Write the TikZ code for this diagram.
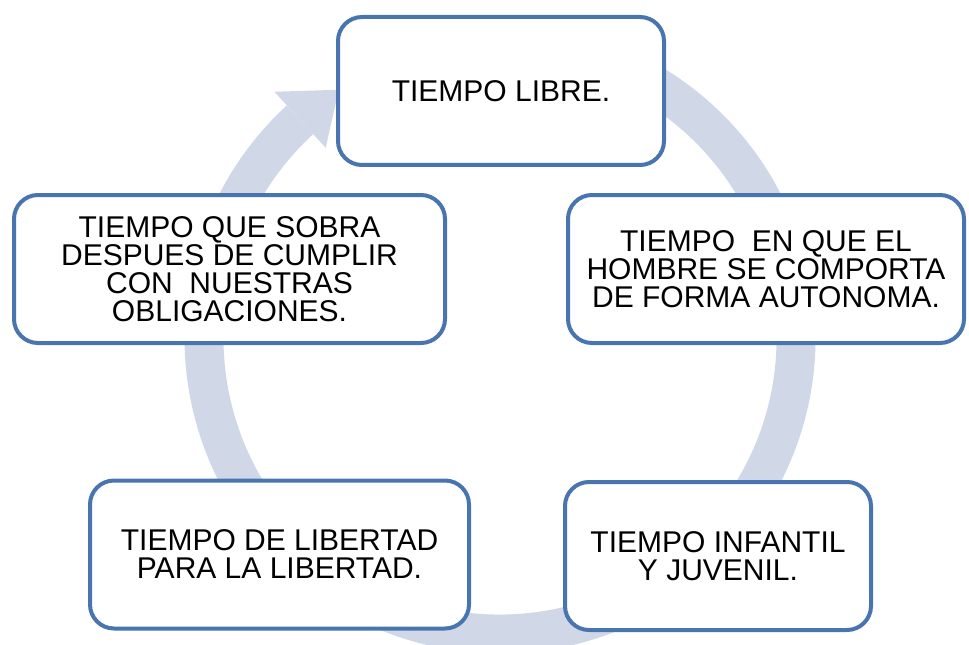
\documentclass[tikz,border=0pt]{standalone}
\usepackage{fontspec}
\setmainfont{Liberation Sans}
\definecolor{boxblue}{RGB}{72,117,176}
\definecolor{ringgray}{RGB}{208,216,232}

\begin{document}
\begin{tikzpicture}[x=0.5pt,y=0.5pt,
                    box node/.style={rectangle,rounded corners=12pt,draw=boxblue,line width=2pt,fill=white,
                      align=center,inner sep=0pt,minimum height=74pt,font=\fontsize{15}{14}\selectfont},
                    ring/.style={draw=ringgray,line width=19.5pt}]
  \useasboundingbox (0,0) rectangle (969,644);
  \coordinate (c) at (500,306);
  \draw[ring] (c) ++(100:296) arc[start angle=100,end angle=-227.5,radius=296];
  \fill[ringgray] ([shift={(132.5:334)}]c) -- ([shift={(123:296)}]c) -- ([shift={(132.5:258)}]c) -- cycle;
  \node[box node,minimum width=163pt] (1) at (501,553) {TIEMPO LIBRE.};
  \node[box node,minimum width=198pt] (2) at (766,375) {TIEMPO\ \ EN QUE EL\\HOMBRE SE COMPORTA\\DE FORMA AUTONOMA.};
  \node[box node,minimum width=153pt] (3) at (718,88) {TIEMPO INFANTIL\\Y JUVENIL.};
  \node[box node,minimum width=189.5pt] (4) at (279.5,89.5) {TIEMPO DE LIBERTAD\\PARA LA LIBERTAD.};
  \node[box node,minimum width=215.5pt] (5) at (229.5,375) {TIEMPO QUE SOBRA\\DESPUES DE CUMPLIR\\CON\ \ NUESTRAS\\OBLIGACIONES.};
\end{tikzpicture}
\end{document}
